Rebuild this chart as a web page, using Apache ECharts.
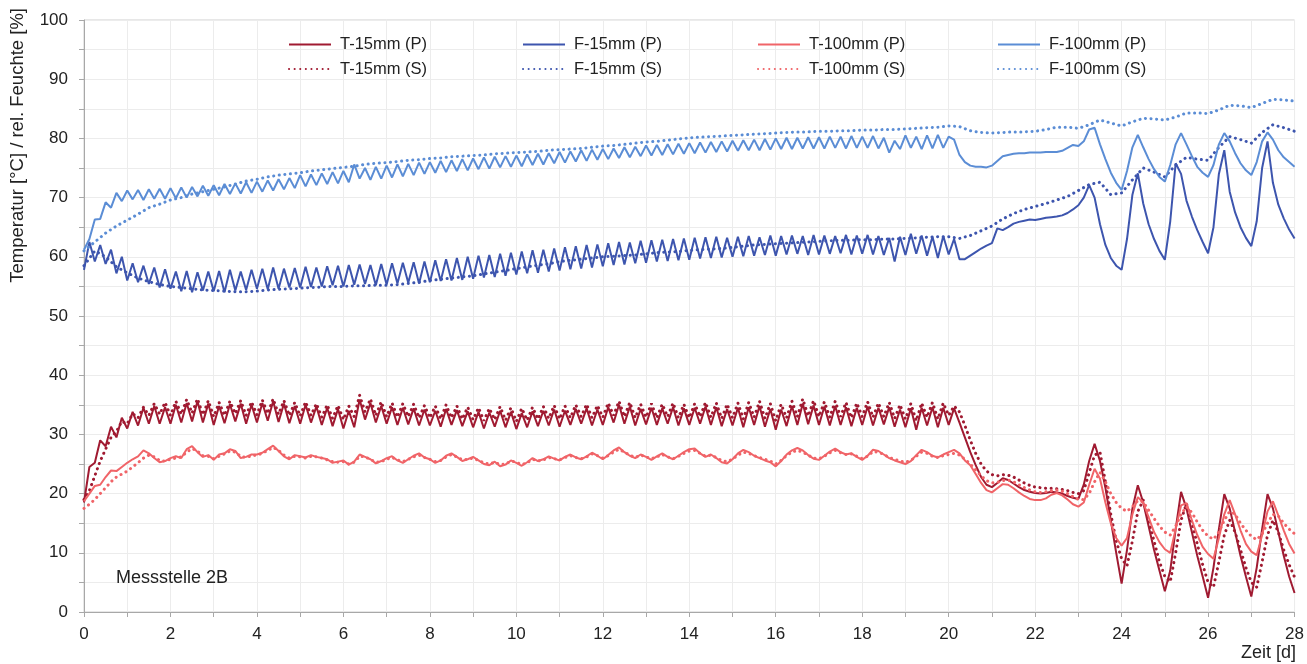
<!DOCTYPE html>
<html lang="de">
<head>
<meta charset="UTF-8">
<title>Messstelle 2B</title>
<script src="https://cdn.jsdelivr.net/npm/echarts@6/dist/echarts.min.js"></script>
<style>
  html, body { margin: 0; padding: 0; background: #fff; }
  #main { width: 1307px; height: 664px; }
</style>
</head>
<body>
<div id="main"></div>
<script>
// Zeitraster: fein (1/8 Tag) und grob (1/4 Tag)
var tFine = [];
for (var i = 0; i <= 224; i++) tFine.push(i / 8);
var tCoarse = [];
for (var j = 0; j <= 112; j++) tCoarse.push(j / 4);

// T-15mm (P), je Zeile ein Tag
var t15P = [
  18.5, 24.5, 25.2, 29.0, 28.0, 31.3, 29.5, 32.8,
  31.0, 33.8, 31.5, 34.5, 31.8, 34.8, 31.8, 34.6,
  31.8, 35.0, 32.0, 35.3, 32.2, 35.6, 32.0, 35.2,
  31.6, 34.8, 31.9, 35.1, 32.2, 35.2, 31.8, 35.0,
  32.0, 35.3, 32.3, 35.6, 32.1, 35.2, 31.9, 34.8,
  31.8, 35.0, 32.0, 34.7, 31.6, 34.5, 31.4, 34.3,
  31.0, 34.0, 31.2, 35.9, 32.5, 35.3, 32.0, 34.8,
  31.8, 34.6, 31.6, 34.5, 31.7, 34.4, 31.5, 34.2,
  31.5, 34.0, 31.3, 34.3, 31.6, 34.1, 31.4, 33.9,
  31.2, 33.8, 31.0, 33.7, 31.3, 34.0, 31.2, 33.8,
  30.9, 33.6, 31.2, 33.9, 31.4, 34.0, 31.5, 34.2,
  31.3, 34.0, 31.6, 34.3, 31.8, 34.4, 31.5, 34.2,
  31.6, 34.6, 32.0, 35.0, 31.8, 34.7, 31.5, 34.3,
  31.7, 34.5, 31.6, 34.4, 31.8, 34.6, 31.5, 34.4,
  31.6, 34.5, 31.8, 34.7, 31.6, 34.6, 31.4, 34.3,
  31.5, 34.5, 31.2, 34.6, 31.6, 34.8, 31.3, 34.3,
  30.8, 34.2, 31.4, 34.8, 31.6, 35.2, 31.7, 34.9,
  31.6, 34.7, 31.5, 34.8, 31.6, 34.6, 31.4, 34.5,
  31.6, 34.7, 31.5, 34.5, 31.7, 34.6, 31.3, 34.2,
  31.2, 34.4, 30.8, 34.5, 31.5, 34.6, 31.2, 34.5,
  31.6, 34.4, 32.0, 29.5, 27.0, 24.8, 22.8, 21.5,
  21.1, 21.8, 22.6, 22.3, 21.7, 21.1, 20.6, 20.3,
  20.1, 20.0, 20.1, 20.3, 20.2, 20.0, 19.6, 19.3,
  19.1, 21.5, 25.5, 28.4, 25.5, 21.0, 15.5, 10.0,
  4.8, 10.5, 17.5, 21.4, 18.5, 14.5, 10.5, 7.0,
  3.5, 7.0, 14.0, 20.3, 17.5, 13.5, 9.5, 6.0,
  2.4, 7.5, 14.0, 19.9, 17.5, 13.5, 9.5, 6.0,
  2.6, 7.5, 14.0, 19.9, 17.5, 13.5, 9.5, 6.0,
  3.2
];

// T-15mm (S)
var t15S = [
  19.0, 20.5, 23.0, 25.5, 27.5, 29.5, 30.5, 32.2,
  31.8, 33.5, 32.8, 34.6, 33.2, 35.2, 33.4, 35.4,
  33.2, 35.6, 33.4, 35.9, 33.6, 36.0, 33.3, 35.7,
  33.0, 35.4, 33.2, 35.6, 33.5, 35.7, 33.2, 35.5,
  33.3, 35.8, 33.5, 36.0, 33.4, 35.7, 33.2, 35.4,
  33.1, 35.5, 33.2, 35.2, 32.9, 35.0, 32.7, 34.9,
  32.5, 34.8, 33.0, 36.6, 33.8, 36.0, 33.2, 35.5,
  33.0, 35.3, 32.9, 35.2, 33.0, 35.1, 32.8, 34.9,
  32.8, 34.8, 32.6, 35.0, 32.8, 34.8, 32.6, 34.6,
  32.5, 34.5, 32.3, 34.4, 32.5, 34.7, 32.4, 34.5,
  32.2, 34.4, 32.4, 34.6, 32.6, 34.7, 32.7, 34.9,
  32.6, 34.8, 32.8, 35.0, 33.0, 35.1, 32.8, 34.9,
  32.9, 35.3, 33.2, 35.6, 33.0, 35.4, 32.8, 35.1,
  32.9, 35.2, 32.8, 35.1, 33.0, 35.3, 32.8, 35.1,
  32.8, 35.2, 33.0, 35.4, 32.9, 35.3, 32.7, 35.1,
  32.8, 35.3, 32.6, 35.4, 32.9, 35.6, 32.7, 35.2,
  32.3, 35.1, 32.8, 35.6, 33.0, 36.0, 33.1, 35.7,
  33.0, 35.5, 32.9, 35.6, 33.0, 35.4, 32.8, 35.3,
  33.0, 35.5, 32.9, 35.3, 33.0, 35.4, 32.7, 35.0,
  32.6, 35.2, 32.3, 35.3, 32.9, 35.4, 32.6, 35.3,
  33.2, 34.8, 33.8, 31.5, 29.0, 26.8, 25.0, 23.8,
  23.2, 23.0, 23.2, 23.1, 22.8, 22.3, 21.8, 21.4,
  21.1, 21.0, 20.9, 20.9, 20.8, 20.7, 20.5, 20.2,
  20.0, 20.5, 23.5, 26.5, 27.0, 22.0, 16.5, 12.0,
  9.0, 7.8, 12.0, 17.0, 18.9, 15.5, 12.0, 8.5,
  6.0, 5.1, 10.0, 15.5, 18.3, 15.0, 11.5, 8.0,
  5.0, 4.2, 8.5, 13.0, 15.5, 13.5, 10.5, 7.5,
  5.0, 4.2, 8.5, 13.0, 15.5, 13.5, 10.5, 8.0,
  5.9
];

// T-100mm (P)
var t100P = [
  18.7, 20.0, 21.3, 21.5, 22.8, 23.9, 23.8, 24.5,
  25.2, 25.8, 26.3, 27.3, 26.8, 26.0, 25.3, 25.5,
  26.0, 26.3, 26.0, 27.5, 28.0, 27.0, 26.2, 26.5,
  25.7, 26.6, 26.8, 27.5, 27.2, 26.0, 26.2, 26.6,
  26.6, 26.9, 27.5, 28.1, 27.2, 26.3, 25.8, 26.5,
  26.3, 26.1, 26.5, 26.2, 26.0, 25.8, 25.2, 25.4,
  25.6, 24.9, 25.4, 26.6, 26.2, 25.8, 25.1, 25.5,
  26.0, 26.3, 25.6, 25.2, 25.8, 26.4, 26.8, 26.1,
  25.8, 25.2, 25.6, 26.4, 26.8, 26.2, 25.5, 25.8,
  26.2, 25.6, 25.0, 24.8, 25.4, 24.6, 24.9, 25.6,
  25.2, 24.7, 25.3, 26.0, 25.5, 25.8, 26.3, 25.9,
  25.6, 26.2, 26.6, 26.1, 25.8, 26.3, 26.9, 26.4,
  25.8, 26.5, 27.3, 27.8, 27.0, 26.4, 26.0, 26.6,
  26.2, 25.7, 26.3, 26.8, 26.2, 25.8, 26.4, 27.0,
  27.5, 27.6, 26.8, 26.2, 26.6, 26.0, 25.3, 25.1,
  25.8, 26.8, 27.4, 27.0, 26.4, 26.0, 25.6, 25.3,
  24.6, 25.5, 26.6, 27.3, 27.7, 27.3, 26.5, 25.9,
  25.7, 26.4, 27.1, 27.6, 27.0, 26.6, 26.8, 26.2,
  25.7, 26.4, 27.4, 27.2, 26.6, 26.0, 25.6, 25.3,
  25.0, 25.5, 26.5, 27.4, 27.0, 26.4, 26.1, 26.6,
  27.0, 27.4, 26.8, 25.6, 24.8, 23.3, 21.8, 20.6,
  20.2, 20.9, 21.6, 21.5, 20.9, 20.2, 19.6, 19.1,
  18.9, 18.9, 19.2, 19.8, 20.1, 19.7, 19.0, 18.2,
  17.8, 18.5, 21.5, 24.2, 22.5, 18.5, 15.0, 12.5,
  11.2, 12.5, 16.5, 19.4, 18.5, 16.0, 13.5, 11.8,
  10.6, 10.0, 14.0, 18.0, 18.4, 15.5, 13.0, 11.0,
  9.8, 9.0, 12.5, 16.5, 18.9, 16.5, 13.8, 11.5,
  10.2, 9.6, 13.0, 17.0, 18.7, 16.3, 13.8, 11.5,
  9.9
];

// T-100mm (S)
var t100S = [
  17.5, 18.2, 19.0, 20.0, 21.0, 22.0, 22.8, 23.3,
  23.8, 24.5, 25.2, 26.0, 26.5, 26.2, 25.6, 25.5,
  25.8, 26.0, 26.2, 27.0, 27.6, 27.2, 26.4, 26.3,
  25.9, 26.3, 26.7, 27.2, 27.0, 26.3, 26.1, 26.4,
  26.5, 26.8, 27.3, 27.8, 27.3, 26.5, 26.0, 26.3,
  26.2, 26.0, 26.3, 26.2, 26.0, 25.7, 25.4, 25.3,
  25.4, 25.0, 25.3, 26.3, 26.2, 25.8, 25.3, 25.4,
  25.8, 26.1, 25.7, 25.4, 25.8, 26.2, 26.5, 26.1,
  25.8, 25.4, 25.6, 26.2, 26.6, 26.2, 25.7, 25.8,
  26.0, 25.6, 25.2, 25.0, 25.3, 24.9, 25.0, 25.5,
  25.3, 24.9, 25.2, 25.8, 25.5, 25.7, 26.1, 25.9,
  25.7, 26.1, 26.4, 26.1, 25.9, 26.2, 26.7, 26.4,
  26.0, 26.4, 27.0, 27.5, 27.0, 26.5, 26.1, 26.5,
  26.2, 25.9, 26.2, 26.6, 26.2, 25.9, 26.3, 26.8,
  27.2, 27.3, 26.8, 26.3, 26.5, 26.1, 25.6, 25.4,
  25.8, 26.5, 27.0, 26.8, 26.4, 26.1, 25.8, 25.5,
  25.0, 25.6, 26.4, 27.0, 27.3, 27.0, 26.5, 26.0,
  25.9, 26.3, 26.9, 27.3, 26.9, 26.6, 26.7, 26.3,
  25.9, 26.3, 27.1, 27.0, 26.6, 26.1, 25.8, 25.5,
  25.3, 25.6, 26.3, 27.0, 26.8, 26.3, 26.1, 26.4,
  26.6, 26.8, 26.5, 25.8, 25.0, 24.0, 23.0, 22.2,
  21.8, 21.9, 22.2, 22.3, 22.0, 21.5, 21.0, 20.6,
  20.3, 20.2, 20.3, 20.5, 20.6, 20.4, 20.0, 19.5,
  19.0, 19.0, 20.0, 22.0, 23.6, 22.0, 20.0, 18.5,
  17.5, 17.0, 17.8, 18.8, 18.6, 17.2, 15.8, 14.5,
  13.5, 13.0, 14.5, 16.5, 17.8, 16.8, 15.2, 13.8,
  12.8, 12.3, 13.5, 15.5, 17.0, 16.5, 15.0, 13.8,
  12.8, 12.2, 13.2, 15.0, 16.5, 16.2, 15.0, 14.0,
  13.2
];

// F-15mm (P)
var f15P = [
  57.8, 62.5, 59.2, 62.0, 58.8, 61.2, 57.2, 60.0,
  56.0, 58.9, 55.7, 58.5, 55.4, 58.2, 54.8, 57.9,
  54.6, 57.5, 54.2, 57.6, 54.0, 57.4, 54.3, 57.5,
  54.2, 57.6, 54.0, 57.8, 54.3, 57.5, 54.4, 57.8,
  54.6, 58.0, 54.5, 58.2, 54.6, 58.0, 54.8, 58.1,
  54.8, 58.3, 54.9, 58.2, 55.0, 58.4, 55.2, 58.5,
  55.0, 58.6, 55.3, 58.7, 55.4, 58.6, 55.2, 58.8,
  55.3, 58.9, 55.5, 59.0, 55.6, 59.1, 55.5, 59.2,
  55.7, 59.4, 55.9, 59.6, 56.0, 59.8, 56.1, 60.0,
  56.3, 60.2, 56.5, 60.3, 56.6, 60.5, 56.8, 60.7,
  57.0, 60.9, 57.2, 61.1, 57.3, 61.2, 57.5, 61.4,
  57.7, 61.6, 57.9, 61.8, 58.0, 62.0, 58.2, 62.1,
  58.4, 62.3, 58.6, 62.5, 58.7, 62.4, 58.9, 62.7,
  59.0, 62.8, 59.2, 62.9, 59.3, 63.0, 59.4, 63.1,
  59.5, 63.2, 59.7, 63.3, 59.8, 63.4, 59.9, 63.2,
  60.0, 63.4, 60.1, 63.5, 60.2, 63.3, 60.3, 63.6,
  60.2, 63.5, 60.4, 63.6, 60.5, 63.5, 60.3, 63.7,
  60.4, 63.6, 60.5, 63.5, 60.6, 63.7, 60.4, 63.6,
  60.5, 63.7, 60.4, 63.5, 60.3, 63.2, 59.2, 63.4,
  60.3, 63.9, 60.5, 63.6, 60.2, 63.4, 59.8, 63.5,
  60.4, 63.0, 59.6, 59.6, 60.2, 60.8, 61.4, 61.9,
  62.3, 64.8, 64.5, 65.0, 65.6, 65.9, 66.1, 66.3,
  66.2, 66.4, 66.6, 66.7, 66.8, 67.0, 67.4, 68.0,
  68.7, 70.0, 72.1, 70.0, 65.5, 62.0, 59.8, 58.5,
  57.8, 63.0, 70.5, 74.1, 69.0, 65.5, 63.0, 61.0,
  59.5, 66.0, 75.8, 74.0, 69.5, 66.8, 64.5, 62.5,
  60.6, 65.0, 74.0, 78.0, 71.0, 67.5, 65.0, 63.2,
  61.8, 66.0, 75.0, 79.5, 72.5, 68.8, 66.5, 64.6,
  63.1
];

// F-100mm (P)
var f100P = [
  61.2, 63.0, 66.3, 66.4, 69.2, 68.3, 70.8, 69.4,
  71.2, 69.7, 71.3, 69.6, 71.4, 69.8, 71.5, 69.8,
  71.6, 69.9, 71.7, 70.0, 71.8, 70.2, 72.0, 70.3,
  72.1, 70.4, 72.3, 70.6, 72.4, 70.7, 72.6, 70.8,
  72.7, 71.0, 72.9, 71.2, 73.1, 71.4, 73.3, 71.6,
  73.8, 71.9, 73.9, 72.1, 74.1, 72.3, 74.3, 72.4,
  74.5, 72.6, 75.6, 73.2, 75.0, 73.0, 75.2, 73.2,
  75.4, 73.4, 75.6, 73.6, 75.7, 73.8, 75.9, 74.0,
  76.0, 74.2, 76.2, 74.3, 76.3, 74.5, 76.5, 74.6,
  76.6, 74.8, 76.8, 74.9, 76.9, 75.1, 77.0, 75.2,
  77.1, 75.3, 77.3, 75.5, 77.4, 75.6, 77.5, 75.8,
  77.7, 75.9, 77.8, 76.1, 78.0, 76.2, 78.1, 76.4,
  78.2, 76.5, 78.3, 76.7, 78.5, 76.8, 78.6, 77.0,
  78.8, 77.1, 78.9, 77.2, 79.0, 77.3, 79.1, 77.4,
  79.2, 77.5, 79.3, 77.6, 79.4, 77.7, 79.5, 77.8,
  79.6, 77.9, 79.7, 78.0, 79.8, 78.0, 79.9, 78.1,
  80.0, 78.2, 80.1, 78.2, 80.1, 78.3, 80.2, 78.3,
  80.2, 78.3, 80.3, 78.4, 80.3, 78.3, 80.4, 78.4,
  80.3, 78.4, 80.4, 78.3, 80.1, 77.6, 79.6, 78.2,
  80.5, 78.4, 80.3, 78.2, 80.5, 78.3, 80.6, 78.4,
  80.3, 79.8, 77.2, 76.0, 75.4, 75.2, 75.2, 75.1,
  75.4, 76.2, 77.0, 77.2, 77.4, 77.5, 77.5, 77.6,
  77.6, 77.6, 77.7, 77.7, 77.7, 77.9, 78.4, 78.9,
  78.7, 79.5, 81.5, 81.8, 79.0, 76.5, 74.2, 72.5,
  71.3, 74.5, 78.5, 80.6, 78.5, 76.5, 74.8, 73.5,
  72.7, 75.5, 79.0, 80.9, 79.0, 77.0, 75.2, 74.2,
  73.5, 75.5, 79.0, 80.9, 79.5, 77.5, 75.8, 74.6,
  73.8, 76.0, 79.5, 81.0, 79.8, 78.0, 76.8, 76.0,
  75.2
];

// F-15mm (S), Raster 1/4 Tag
var f15S = [
  58.5, 61.0, 60.0, 58.3,
  57.3, 56.4, 55.8, 55.3,
  55.0, 54.8, 54.6, 54.4,
  54.3, 54.2, 54.1, 54.1,
  54.2, 54.4, 54.5, 54.6,
  54.7, 54.8, 54.9, 55.0,
  55.0, 55.1, 55.1, 55.2,
  55.2, 55.3, 55.5, 55.7,
  56.0, 56.2, 56.4, 56.6,
  56.8, 57.1, 57.4, 57.7,
  58.0, 58.3, 58.6, 58.8,
  59.2, 59.4, 59.6, 59.8,
  60.0, 60.1, 60.2, 60.3,
  60.5, 60.7, 60.8, 60.9,
  61.1, 61.2, 61.3, 61.4,
  61.6, 61.8, 62.0, 62.1,
  62.2, 62.3, 62.4, 62.5,
  62.6, 62.7, 62.8, 62.8,
  62.9, 62.9, 63.0, 63.0,
  63.1, 63.2, 63.3, 63.4,
  63.4, 63.1, 63.6, 64.4,
  65.2, 66.4, 67.3, 68.0,
  68.5, 69.0, 69.6, 70.2,
  71.2, 72.2, 72.6, 70.5,
  70.8, 73.0, 75.0, 74.3,
  73.5, 75.5, 76.8, 76.5,
  76.3, 78.5, 80.3, 79.8,
  79.2, 81.0, 82.3, 81.8,
  81.2
];

// F-100mm (S), Raster 1/4 Tag
var f100S = [
  61.0, 62.5, 64.0, 65.2,
  66.2, 67.2, 68.3, 68.9,
  69.6, 70.0, 70.6, 71.0,
  71.4, 71.8, 72.3, 72.8,
  73.1, 73.5, 73.8, 74.0,
  74.2, 74.5, 74.7, 74.9,
  75.1, 75.3, 75.6, 75.8,
  75.9, 76.1, 76.3, 76.4,
  76.6, 76.7, 76.9, 77.0,
  77.1, 77.2, 77.4, 77.5,
  77.6, 77.7, 77.8, 78.0,
  78.1, 78.2, 78.3, 78.5,
  78.7, 78.8, 79.0, 79.2,
  79.4, 79.5, 79.7, 79.9,
  80.1, 80.2, 80.3, 80.4,
  80.5, 80.6, 80.7, 80.8,
  80.9, 81.0, 81.1, 81.1,
  81.2, 81.2, 81.3, 81.3,
  81.4, 81.4, 81.5, 81.5,
  81.6, 81.7, 81.8, 81.9,
  82.1, 82.0, 81.3, 81.0,
  80.9, 81.0, 81.1, 81.1,
  81.2, 81.5, 81.9, 81.9,
  81.7, 82.3, 83.1, 82.6,
  82.1, 82.8, 83.4, 83.3,
  83.1, 83.6, 84.3, 84.3,
  84.2, 84.8, 85.6, 85.5,
  85.2, 85.9, 86.6, 86.5,
  86.3
];

var cT15 = '#a01a31';
var cF15 = '#3d55ae';
var cT100 = '#f06468';
var cF100 = '#5b8dd5';
var fontFam = '"Liberation Sans", Arial, sans-serif';

function pair(t, v) {
    return v.map(function (y, k) { return [t[k], y]; });
}

function line(name, t, v, color, dotted) {
    return {
        name: name,
        type: 'line',
        data: pair(t, v),
        symbol: 'none',
        smooth: false,
        lineStyle: dotted
            ? { color: color, width: 3, type: [0.1, 5.5], cap: 'round' }
            : { color: color, width: 2 },
        itemStyle: { color: color }
    };
}

function legendCol(left, names) {
    return {
        orient: 'vertical',
        left: left,
        top: 36,
        padding: 0,
        itemWidth: 42,
        itemHeight: 14,
        itemGap: 7.5,
        itemStyle: { opacity: 0 },
        data: names,
        textStyle: { fontSize: 16.5, color: '#222', fontFamily: fontFam, padding: [0, 0, 0, 4] }
    };
}

var chart = echarts.init(document.getElementById('main'));
chart.setOption({
    animation: false,
    textStyle: { fontFamily: fontFam },
    grid: {
        left: 84, right: 11, top: 20, bottom: 52,
        show: true, borderColor: '#cfcfcf', borderWidth: 1
    },
    legend: [
        legendCol(288, ['T-15mm (P)', 'T-15mm (S)']),
        legendCol(522, ['F-15mm (P)', 'F-15mm (S)']),
        legendCol(757, ['T-100mm (P)', 'T-100mm (S)']),
        legendCol(997, ['F-100mm (P)', 'F-100mm (S)'])
    ],
    xAxis: {
        type: 'value',
        min: 0, max: 28, interval: 2,
        axisLine: { lineStyle: { color: '#a8a8a8' } },
        axisTick: { show: true, length: 5, lineStyle: { color: '#a8a8a8' } },
        minorTick: { show: true, splitNumber: 2, length: 5, lineStyle: { color: '#a8a8a8' } },
        splitLine: { show: true, lineStyle: { color: '#ececec' } },
        minorSplitLine: { show: true, lineStyle: { color: '#ececec' } },
        axisLabel: { fontSize: 17, color: '#222', margin: 14 }
    },
    yAxis: {
        type: 'value',
        min: 0, max: 100, interval: 10,
        axisLine: { show: true, lineStyle: { color: '#a8a8a8' } },
        axisTick: { show: true, length: 5, lineStyle: { color: '#a8a8a8' } },
        minorTick: { show: true, splitNumber: 2, length: 5, lineStyle: { color: '#a8a8a8' } },
        splitLine: { show: true, lineStyle: { color: '#ececec' } },
        minorSplitLine: { show: true, lineStyle: { color: '#ececec' } },
        axisLabel: { fontSize: 17, color: '#222', margin: 16 }
    },
    graphic: [
        {
            type: 'text', left: 8, top: 8, rotation: Math.PI / 2, z: 100,
            style: { text: 'Temperatur [°C] / rel. Feuchte [%]', fontSize: 18.5, fill: '#222', fontFamily: fontFam }
        },
        {
            type: 'text', right: 11, top: 644, z: 100,
            style: { text: 'Zeit [d]', fontSize: 18, fill: '#222', fontFamily: fontFam }
        },
        {
            type: 'text', left: 116, top: 569, z: 100,
            style: { text: 'Messstelle 2B', fontSize: 18, fill: '#222', fontFamily: fontFam }
        }
    ],
    series: [
        line('T-15mm (P)', tFine, t15P, cT15, false),
        line('T-15mm (S)', tFine, t15S, cT15, true),
        line('F-15mm (P)', tFine, f15P, cF15, false),
        line('F-15mm (S)', tCoarse, f15S, cF15, true),
        line('T-100mm (P)', tFine, t100P, cT100, false),
        line('T-100mm (S)', tFine, t100S, cT100, true),
        line('F-100mm (P)', tFine, f100P, cF100, false),
        line('F-100mm (S)', tCoarse, f100S, cF100, true)
    ]
});
</script>
</body>
</html>
